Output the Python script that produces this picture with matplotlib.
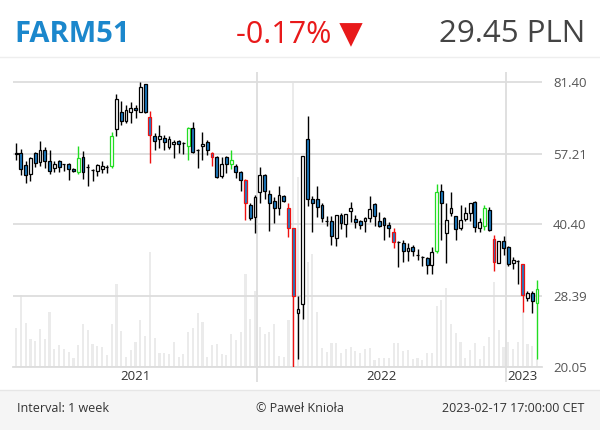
import numpy as np
import pandas as pd
import matplotlib
matplotlib.use("Agg")
import matplotlib.pyplot as plt
from matplotlib.patches import Rectangle
from matplotlib.ticker import NullLocator, NullFormatter

plt.rcParams['font.family'] = ['Open Sans', 'DejaVu Sans']

# weekly candles FARM51, 2021-01-15 .. 2023-02-17
dates = pd.date_range("2021-01-15", "2023-02-17", freq="W-FRI")

opens = [57.2, 57.4, 54.1, 51.8, 57.4, 55.0, 58.3, 55.2, 53.3, 55.2,
         54.4, 54.4, 53.1, 52.4, 56.4, 53.7, 52.8, 52.5, 53.1, 53.6,
         53.9, 64.6, 70.2, 67.2, 70.2, 71.7, 70.2, 80.5, 68.5, 62.5,
         61.6, 61.8, 59.2, 60.0, 60.8, 60.2, 59.4, 64.9, 58.4, 59.4,
         60.6, 57.4, 56.3, 51.4, 56.2, 54.3, 53.9, 52.4, 50.4, 44.5,
         42.0, 47.4, 51.6, 46.9, 45.4, 43.9, 46.4, 43.8, 39.8, 26.2,
         27.3, 61.5, 45.9, 45.9, 44.5, 41.1, 41.1, 37.8, 42.4, 40.5,
         43.2, 41.6, 41.0, 41.2, 41.8, 44.7, 41.1, 41.7, 40.3, 38.9,
         37.1, 36.9, 35.5, 36.2, 34.8, 34.5, 34.2, 33.1, 35.5, 47.6,
         38.8, 42.8, 42.1, 39.7, 41.6, 42.8, 45.1, 39.8, 40.1, 43.4,
         37.7, 33.5, 37.2, 36.2, 33.5, 33.8, 33.2, 28.2, 28.9, 27.5]
highs = [60.2, 58.5, 55.3, 56.2, 57.8, 60.8, 59.1, 58.4, 55.3, 55.4,
         54.5, 54.6, 53.3, 59.4, 58.1, 54.4, 53.2, 54.4, 55.2, 54.2,
         63.8, 76.6, 74.2, 72.6, 73.6, 72.7, 81.4, 80.6, 70.7, 63.2,
         65.8, 62.8, 62.3, 61.2, 61.2, 60.7, 65.3, 67.0, 58.7, 63.8,
         61.2, 57.6, 56.5, 56.4, 56.6, 58.4, 54.4, 52.5, 50.6, 44.8,
         46.6, 53.7, 51.7, 47.9, 46.2, 48.9, 46.7, 44.9, 39.8, 28.4,
         56.7, 69.0, 46.4, 48.8, 44.8, 42.1, 42.2, 42.4, 42.8, 42.6,
         45.2, 42.4, 41.3, 42.0, 46.4, 44.8, 42.9, 41.9, 40.8, 39.8,
         37.2, 37.4, 36.9, 36.6, 35.9, 34.6, 34.4, 36.1, 49.2, 49.3,
         44.8, 47.5, 42.2, 44.5, 44.1, 44.9, 45.3, 41.8, 44.4, 44.0,
         38.4, 37.2, 38.2, 36.3, 34.4, 33.9, 33.2, 29.1, 29.2, 30.7]
lows = [55.5, 51.6, 49.6, 50.1, 53.5, 53.8, 53.4, 51.8, 52.3, 52.3,
        52.5, 50.4, 52.3, 51.9, 50.5, 48.9, 50.0, 51.4, 52.0, 52.0,
        53.3, 62.4, 65.8, 66.7, 66.7, 68.3, 70.1, 70.0, 54.7, 58.4,
        58.8, 58.4, 58.7, 56.0, 57.4, 57.1, 55.5, 57.3, 53.3, 55.6,
        56.9, 53.8, 50.7, 50.9, 52.0, 53.1, 50.7, 47.7, 41.4, 41.4,
        38.8, 44.9, 45.8, 39.2, 40.7, 42.4, 45.2, 38.0, 20.05, 20.9,
        25.4, 44.3, 39.0, 42.0, 40.9, 40.2, 36.6, 36.3, 39.6, 37.9,
        40.8, 39.7, 39.5, 39.0, 40.8, 40.2, 40.0, 37.4, 38.0, 36.0,
        32.8, 33.6, 33.8, 34.6, 34.0, 32.9, 31.7, 31.7, 35.2, 37.5,
        33.4, 42.1, 37.4, 39.3, 41.0, 41.1, 38.9, 39.0, 39.4, 39.2,
        32.1, 33.4, 34.8, 33.0, 32.5, 30.2, 26.3, 27.8, 26.1, 20.9]
closes = [57.3, 53.1, 51.5, 55.9, 54.7, 58.2, 55.2, 52.5, 54.4, 53.7,
          54.4, 53.0, 52.5, 56.0, 52.4, 53.7, 52.8, 54.1, 53.8, 53.6,
          62.4, 74.9, 67.3, 70.9, 71.7, 70.9, 79.3, 70.2, 62.8, 60.9,
          62.3, 60.6, 61.5, 60.7, 60.0, 60.2, 64.9, 57.6, 58.4, 60.1,
          58.4, 56.4, 51.1, 54.4, 54.3, 55.4, 52.3, 50.4, 44.8, 41.8,
          46.2, 51.6, 47.7, 44.9, 43.8, 46.8, 45.4, 39.8, 28.4, 26.7,
          56.6, 45.7, 44.9, 44.1, 41.8, 41.1, 38.1, 42.4, 40.6, 42.6,
          43.9, 40.9, 40.3, 41.8, 43.6, 42.2, 40.1, 40.3, 39.8, 37.0,
          37.1, 35.5, 36.0, 35.5, 34.8, 34.5, 33.1, 35.3, 47.3, 44.9,
          41.4, 43.8, 39.6, 41.4, 42.8, 44.8, 39.9, 40.9, 43.8, 39.4,
          33.6, 37.2, 36.0, 33.2, 34.0, 33.8, 28.5, 28.8, 27.7, 29.45]
# volume, thousands of shares (relative)
volumes = [39, 72, 44, 28, 26, 38, 28, 55, 18, 22,
           18, 15, 9, 22, 43, 37, 23, 21, 20, 12,
           43, 83, 36, 10, 17, 25, 47, 31, 115, 29,
           14, 14, 13, 25, 10, 13, 35, 39, 54, 45,
           10, 22, 23, 13, 12, 33, 27, 35, 93, 48,
           76, 40, 33, 35, 43, 11, 10, 47, 284, 190,
           90, 105, 113, 55, 19, 15, 24, 24, 14, 18,
           20, 16, 14, 18, 19, 7, 9, 9, 9, 24,
           24, 16, 17, 8, 9, 7, 14, 14, 61, 67,
           79, 43, 34, 25, 9, 17, 24, 8, 21, 30,
           85, 37, 20, 25, 18, 25, 55, 23, 21, 8]
# weeks flagged by the chart (0-based)
up_signal = [13, 20, 36, 45, 88, 98, 109]
down_signal = [28, 41, 48, 57, 58, 79, 100, 106]

price_ticks = [20.05, 28.39, 40.40, 57.21, 81.40]
symbol = "FARM51"
change_txt = "-0.17%"
last_txt = "29.45 PLN"

x = np.arange(len(dates))
o = np.array(opens); c = np.array(closes)
h = np.array(highs); l = np.array(lows)

up_col, dn_fill = "white", "#1c7cc4"
edge = np.array(["black"] * len(x), dtype=object)
edge[up_signal] = "#22dd22"
edge[down_signal] = "#ee1111"
fill = np.where(c >= o, up_col, dn_fill)

fig = plt.figure(figsize=(6, 4.3), dpi=100)
pos = [13/600, 1-367/430, 529/600, 295/430]
xlim = (-0.65, len(x) + 0.05)

# volume underneath
axv = fig.add_axes(pos)
axv.bar(x, volumes, width=0.45, color="#ebebeb", linewidth=0)
axv.set_xlim(*xlim)
axv.set_ylim(0, max(volumes) * 295 / 284)
axv.axis("off")

ax = fig.add_axes(pos)
ax.patch.set_visible(False)
ax.set_yscale("log")
ax.set_xlim(*xlim)
ax.set_ylim(20.05, 20.05 * np.exp(295 / 203.4))

ax.vlines(x, l, h, colors=list(edge), linewidth=1.0, zorder=3)
bottoms = np.minimum(o, c)
heights = np.abs(c - o)
ax.bar(x, heights, bottom=bottoms, width=0.6, color=list(fill),
       edgecolor=list(edge), linewidth=0.9, zorder=4)

# y axis on the right
ax.yaxis.tick_right()
ax.set_yticks(price_ticks)
ax.set_yticklabels([f"{t:.2f}" for t in price_ticks])
ax.yaxis.set_minor_locator(NullLocator())
ax.yaxis.set_minor_formatter(NullFormatter())
ax.tick_params(axis="y", length=0, pad=8, labelsize=9.5, labelcolor="#555555")
ax.grid(axis="y", color="#dddddd", linewidth=1.3, zorder=0)

# years: boundaries as gridlines, labels centred in each year
years = dates.year.values
bounds = [i - 0.5 for i in range(1, len(x)) if years[i] != years[i-1]]
ax.set_xticks(bounds)
ax.set_xticklabels([""] * len(bounds))
ax.tick_params(axis="x", which="major", length=11, color="#dddddd", width=1.3)
ax.grid(axis="x", which="major", color="#dddddd", linewidth=1.3, zorder=0)
ycent = [x[years == yr].mean() for yr in np.unique(years)]
ax.set_xticks(ycent, minor=True)
ax.set_xticklabels([str(yr) for yr in np.unique(years)], minor=True)
ax.tick_params(axis="x", which="minor", length=0, pad=2, labelsize=9.5,
               labelcolor="#333333")
for s in ["left", "right", "top"]:
    ax.spines[s].set_visible(False)
ax.spines["bottom"].set_color("#dddddd")
ax.spines["bottom"].set_linewidth(1.3)

# header
fig.text(14/600, 1-42/430, symbol, fontsize=21, fontweight="bold",
         color="#1b87cc", va="baseline", ha="left")
fig.text(236/600, 1-42/430, change_txt + " \u25BC", fontsize=22,
         color="#e8191a", va="baseline", ha="left")
fig.text(585/600, 1-42/430, last_txt, fontsize=22.5, color="#444444",
         va="baseline", ha="right")
fig.add_artist(plt.Line2D([0, 1], [1-57/430, 1-57/430], color="#eeeeee",
                          linewidth=1, transform=fig.transFigure))

# footer
fig.add_artist(Rectangle((0, 0), 1, 40/430, transform=fig.transFigure,
                         facecolor="#f5f5f5", edgecolor="none"))
fig.add_artist(plt.Line2D([0, 1], [40/430, 40/430], color="#e6e6e6",
                          linewidth=1, transform=fig.transFigure))
fig.text(17/600, 21/430, "Interval: 1 week", fontsize=9, color="#333333",
         va="center", ha="left")
fig.text(300/600, 21/430, "\u00a9 Pawe\u0142 Knio\u0142a", fontsize=9,
         color="#333333", va="center", ha="center")
fig.text(584/600, 21/430, "2023-02-17 17:00:00 CET", fontsize=9,
         color="#333333", va="center", ha="right")

fig.savefig("out.png", dpi=100)
